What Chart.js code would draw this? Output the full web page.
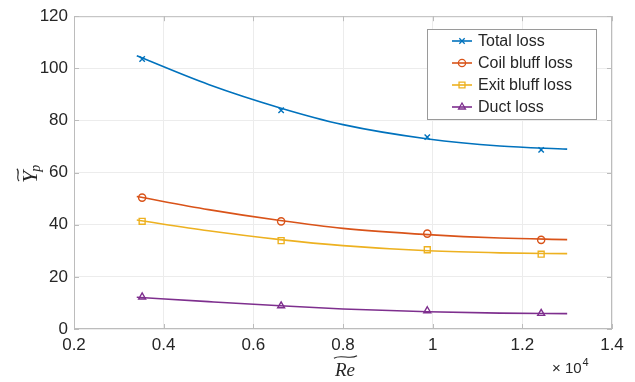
<!DOCTYPE html>
<html>
<head>
<meta charset="utf-8">
<script src="https://cdn.jsdelivr.net/npm/chart.js@4.4.1/dist/chart.umd.min.js"></script>
<style>
  html, body { margin: 0; padding: 0; background: #fff; }
  canvas { display: block; }
</style>
</head>
<body>
<canvas id="chart" width="635" height="382"></canvas>
<script>
// Re in units of 1e4
const reMarkers = [0.352, 0.662, 0.988, 1.242]
const totalLoss = [103.6, 83.9, 73.6, 68.7]
const coilLoss = [50.4, 41.3, 36.6, 34.2]
const exitLoss = [41.3, 33.9, 30.4, 28.7]
const ductLoss = [12.3, 8.9, 7.0, 6.0]

// fitted curves
const reFit = [0.34, 0.5, 0.66, 0.8, 0.99, 1.15, 1.3]
const totalFit = [104.8, 93.8, 84.8, 78.4, 72.9, 70.2, 69.0]
const coilFit = [50.8, 45.8, 41.6, 38.6, 36.2, 34.9, 34.3]
const exitFit = [41.8, 37.7, 34.3, 32.0, 30.0, 29.2, 28.9]
const ductFit = [12.2, 10.5, 8.9, 7.7, 6.6, 6.1, 5.9]

const seriesNames = ["Total loss", "Coil bluff loss", "Exit bluff loss", "Duct loss"]
const xTicks = [0.2, 0.4, 0.6, 0.8, 1, 1.2, 1.4]
const yTicks = [0, 20, 40, 60, 80, 100, 120]

const colors = ["#0072BD", "#D95319", "#EDB120", "#7E2F8E"]
const markers = [
  { style: "crossRot", radius: 3.8 },
  { style: "circle", radius: 3.6 },
  { style: "rect", radius: 4.2 },
  { style: "triangle", radius: 4 }
]
const axisColor = "#bcbcbc"
const textColor = "#262626"
const sans = "'Liberation Sans', Arial, Helvetica, sans-serif"
const serif = "'Liberation Serif', 'DejaVu Serif', serif"

function pairs(xs, ys) {
  return xs.map((x, i) => ({ x: x, y: ys[i] }))
}

const fits = [totalFit, coilFit, exitFit, ductFit]
const points = [totalLoss, coilLoss, exitLoss, ductLoss]

const datasets = []
fits.forEach((f, i) => {
  datasets.push({
    label: seriesNames[i] + " fit",
    data: pairs(reFit, f),
    showLine: true,
    borderColor: colors[i],
    borderWidth: 1.6,
    pointRadius: 0,
    cubicInterpolationMode: "monotone",
    fill: false,
    isFit: true
  })
})
points.forEach((p, i) => {
  datasets.push({
    label: seriesNames[i],
    data: pairs(reMarkers, p),
    showLine: false,
    borderColor: colors[i],
    backgroundColor: "rgba(0,0,0,0)",
    pointStyle: markers[i].style,
    pointRadius: markers[i].radius,
    pointBorderWidth: 1.4
  })
})

function tilde(ctx, x0, y, w, h) {
  ctx.beginPath()
  ctx.moveTo(x0, y + h * 0.5)
  ctx.bezierCurveTo(x0 + w * 0.3, y - h * 1.3, x0 + w * 0.7, y + h * 1.3, x0 + w, y - h * 0.5)
  ctx.stroke()
}

function drawMarker(ctx, style, x, y, r) {
  ctx.beginPath()
  if (style === "crossRot") {
    const d = r * Math.SQRT1_2
    ctx.moveTo(x - d, y - d); ctx.lineTo(x + d, y + d)
    ctx.moveTo(x - d, y + d); ctx.lineTo(x + d, y - d)
  } else if (style === "circle") {
    ctx.arc(x, y, r, 0, Math.PI * 2)
  } else if (style === "rect") {
    const s = r * Math.SQRT1_2
    ctx.rect(x - s, y - s, 2 * s, 2 * s)
  } else if (style === "triangle") {
    ctx.moveTo(x, y - r)
    ctx.lineTo(x - r * 0.866, y + r * 0.5)
    ctx.lineTo(x + r * 0.866, y + r * 0.5)
    ctx.closePath()
  }
  ctx.stroke()
}

const matlabAxes = {
  id: "matlabAxes",
  afterDatasetsDraw(chart) {
    const { ctx, chartArea: a, scales } = chart
    ctx.save()
    ctx.strokeStyle = axisColor
    ctx.lineWidth = 1
    ctx.strokeRect(a.left + 0.5, a.top + 0.5, a.right - a.left - 1, a.bottom - a.top - 1)
    const tl = 5
    ctx.beginPath()
    xTicks.forEach(v => {
      const px = Math.round(scales.x.getPixelForValue(v)) + 0.5
      ctx.moveTo(px, a.bottom); ctx.lineTo(px, a.bottom - tl)
      ctx.moveTo(px, a.top); ctx.lineTo(px, a.top + tl)
    })
    yTicks.forEach(v => {
      const py = Math.round(scales.y.getPixelForValue(v)) + 0.5
      ctx.moveTo(a.left, py); ctx.lineTo(a.left + tl, py)
      ctx.moveTo(a.right, py); ctx.lineTo(a.right - tl, py)
    })
    ctx.stroke()
    ctx.restore()
  },
  afterDraw(chart) {
    const { ctx } = chart
    ctx.save()
    ctx.fillStyle = textColor
    ctx.strokeStyle = textColor
    ctx.lineWidth = 1.1

    // x axis title: tilde Re
    ctx.font = "italic 19px " + serif
    ctx.textBaseline = "alphabetic"
    ctx.textAlign = "left"
    const reW = ctx.measureText("Re").width
    const rx = 345 - reW / 2
    ctx.fillText("Re", rx, 376)
    tilde(ctx, rx - 1, 357, reW + 3, 2.4)

    // x10^4 multiplier
    ctx.font = "15px " + sans
    ctx.fillText("\u00d7 10", 552, 373)
    const mw = ctx.measureText("\u00d7 10").width
    ctx.font = "11px " + sans
    ctx.fillText("4", 552 + mw + 1, 366)

    // y axis title: tilde Y_p
    ctx.translate(37, 183)
    ctx.rotate(-Math.PI / 2)
    ctx.font = "italic 22px " + serif
    const yw = ctx.measureText("Y").width
    ctx.fillText("Y", 0, 0)
    tilde(ctx, 2, -19, yw, 2.2)
    ctx.font = "italic 14px " + serif
    ctx.fillText("p", yw - 1, 3)
    ctx.restore()

    // legend box
    ctx.save()
    const bx = 427, by = 29, bw = 169, bh = 90
    ctx.fillStyle = "#fff"
    ctx.fillRect(bx, by, bw, bh)
    ctx.strokeStyle = "#9a9a9a"
    ctx.lineWidth = 1
    ctx.strokeRect(bx + 0.5, by + 0.5, bw, bh)
    ctx.font = "16px " + sans
    ctx.textBaseline = "middle"
    chart.data.datasets.filter(d => !d.isFit).forEach((d, i) => {
      const y = 41 + i * 22
      ctx.strokeStyle = d.borderColor
      ctx.lineWidth = 1.6
      ctx.beginPath()
      ctx.moveTo(452, y); ctx.lineTo(472, y)
      ctx.stroke()
      ctx.lineWidth = 1.3
      drawMarker(ctx, d.pointStyle, 462, y, d.pointRadius)
      ctx.fillStyle = textColor
      ctx.fillText(d.label, 478, y + 1)
    })
    ctx.restore()
  }
}

new Chart(document.getElementById("chart"), {
  type: "scatter",
  data: { datasets: datasets },
  options: {
    responsive: false,
    animation: false,
    devicePixelRatio: 1,
    layout: { padding: { left: 0, top: 14, right: 23, bottom: 0 } },
    plugins: {
      legend: { display: false },
      tooltip: { enabled: false }
    },
    scales: {
      x: {
        type: "linear",
        min: 0.2,
        max: 1.4,
        afterBuildTicks: s => { s.ticks = xTicks.map(v => ({ value: v })) },
        afterFit: s => { s.height = 53 },
        grid: { color: "#ececec", drawTicks: false },
        border: { display: false },
        ticks: {
          color: textColor,
          font: { family: sans, size: 17 },
          padding: 6,
          maxRotation: 0,
          callback: v => String(Number(v.toFixed(1)))
        }
      },
      y: {
        min: 0,
        max: 120,
        afterBuildTicks: s => { s.ticks = yTicks.map(v => ({ value: v })) },
        afterFit: s => { s.width = 74 },
        grid: { color: "#ececec", drawTicks: false },
        border: { display: false },
        ticks: {
          color: textColor,
          font: { family: sans, size: 17 },
          padding: 6
        }
      }
    }
  },
  plugins: [matlabAxes]
})
</script>
</body>
</html>
